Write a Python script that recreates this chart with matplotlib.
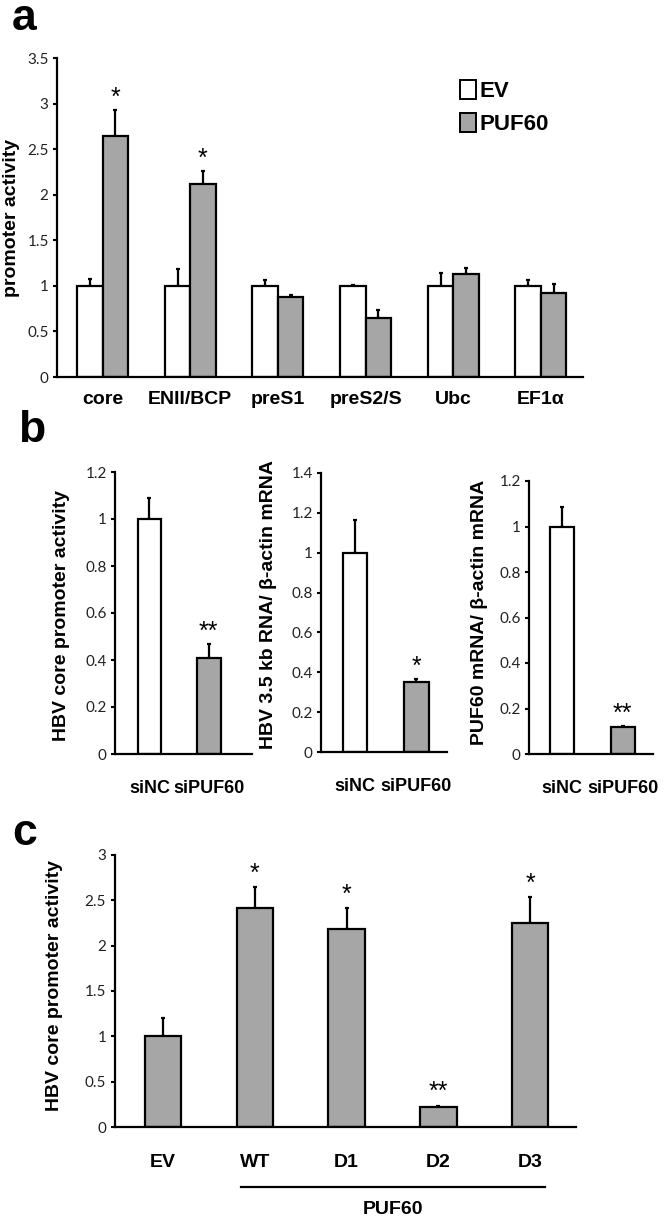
import numpy as np
import matplotlib
matplotlib.use("Agg")
import matplotlib.pyplot as plt
import matplotlib.transforms as mtransforms
from matplotlib.patches import Patch

# ---- data ----
a_categories = ["core", "ENII/BCP", "preS1", "preS2/S", "Ubc", "EF1\u03b1"]
a_ev = [1.0, 1.0, 1.0, 1.0, 1.0, 1.0]
a_ev_err = [0.08, 0.19, 0.06, 0.01, 0.14, 0.06]
a_puf = [2.64, 2.12, 0.88, 0.65, 1.13, 0.92]
a_puf_err = [0.29, 0.14, 0.02, 0.09, 0.07, 0.10]
a_stars = ["*", "*", "", "", "", ""]

b_categories = ["siNC", "siPUF60"]
b1_vals = [1.0, 0.41]
b1_err = [0.09, 0.06]
b1_stars = ["", "**"]
b2_vals = [1.0, 0.35]
b2_err = [0.165, 0.015]
b2_stars = ["", "*"]
b3_vals = [1.0, 0.12]
b3_err = [0.085, 0.005]
b3_stars = ["", "**"]

c_categories = ["EV", "WT", "D1", "D2", "D3"]
c_vals = [1.0, 2.41, 2.18, 0.22, 2.25]
c_err = [0.20, 0.23, 0.23, 0.015, 0.28]
c_stars = ["", "*", "*", "**", "*"]

GRAY = "#a6a6a6"
W, H = 666, 1221
BOLD = dict(family="Liberation Sans", fontweight="bold")
TICKFONT = "Lato"

fig = plt.figure(figsize=(W / 100, H / 100), dpi=100)


def add_axes_px(x0, x1, y_top, y_bot):
    return fig.add_axes([x0 / W, 1 - y_bot / H, (x1 - x0) / W, (y_bot - y_top) / H])


def style_axes(ax, ymax, step, xlim, label, label_xy, xpad):
    ax.set_ylim(0, ymax)
    ax.set_xlim(*xlim)
    ax.set_yticks(np.round(np.arange(0, ymax + step / 2, step), 2))
    ax.yaxis.set_major_formatter(plt.FuncFormatter(lambda v, p: f"{v:g}"))
    for s in ["top", "right"]:
        ax.spines[s].set_visible(False)
    for s in ["left", "bottom"]:
        ax.spines[s].set_linewidth(1.6)
    ax.tick_params(axis="y", direction="out", length=3, width=1.5, pad=3, labelsize=11)
    ax.tick_params(axis="x", length=0, pad=xpad)
    for t in ax.get_yticklabels():
        t.set_family(TICKFONT)
        t.set_color("#222222")
    ax.set_ylabel(label, fontsize=14, **BOLD)
    ax.yaxis.set_label_coords(*label_xy)


def bars(ax, x, vals, errs, color, width):
    ax.bar(x, vals, width, color=color, edgecolor="black", linewidth=1.6, zorder=2)
    ax.errorbar(x, vals, yerr=[np.zeros(len(vals)), errs], fmt="none", ecolor="black",
                elinewidth=1.6, capsize=1.2, capthick=1.6, zorder=1)


def stars(ax, x, vals, errs, marks, offset):
    for xi, v, e, m in zip(x, vals, errs, marks):
        if m:
            ax.text(xi, v + e + offset, m, ha="center", va="bottom", fontsize=18,
                    family="Liberation Sans")


# ---- panel a ----
ax = add_axes_px(57, 583, 58, 377)
x = np.arange(len(a_categories))
bw = 0.29
bars(ax, x - bw / 2, a_ev, a_ev_err, "white", bw)
bars(ax, x + bw / 2, a_puf, a_puf_err, GRAY, bw)
stars(ax, x + bw / 2, a_puf, a_puf_err, a_stars, 0.0)
style_axes(ax, 3.5, 0.5, (-0.52, 5.48), "promoter activity", (-0.07, 0.5), 10)
ax.set_xticks(x)
ax.set_xticklabels(a_categories, fontsize=14, **BOLD)
handles = [Patch(facecolor="white", edgecolor="black", linewidth=1.4),
           Patch(facecolor=GRAY, edgecolor="black", linewidth=1.4)]
ax.legend(handles, ["EV", "PUF60"], loc="upper left", bbox_to_anchor=(0.745, 0.965),
          frameon=False, handlelength=0.7, handleheight=0.9, handletextpad=0.2,
          labelspacing=0.5, borderpad=0, prop=dict(family="Liberation Sans", weight="bold", size=16))

# ---- panel b ----
b_specs = [
    ((115, 252, 472, 754), b1_vals, b1_err, b1_stars, 1.2, 0.2, (-0.58, 1.73),
     "HBV core promoter activity", (-0.33, 0.49)),
    ((321, 447, 473, 752), b2_vals, b2_err, b2_stars, 1.4, 0.2, (-0.56, 1.5),
     "HBV 3.5 kb RNA/ \u03b2-actin mRNA", (-0.35, 0.53)),
    ((529, 653, 481, 754), b3_vals, b3_err, b3_stars, 1.2, 0.2, (-0.55, 1.5),
     "PUF60 mRNA/ \u03b2-actin mRNA", (-0.33, 0.52)),
]
xb = np.arange(len(b_categories))
for box, vals, errs, marks, ymax, step, xlim, label, label_xy in b_specs:
    axb = add_axes_px(*box)
    for xi, v, e, col in zip(xb, vals, errs, ["white", GRAY]):
        bars(axb, [xi], [v], [e], col, 0.4)
    stars(axb, xb, vals, errs, marks, 0.0)
    style_axes(axb, ymax, step, xlim, label, label_xy, 19)
    axb.set_xticks(xb)
    axb.set_xticklabels(b_categories, fontsize=13, **BOLD)

# ---- panel c ----
axc = add_axes_px(114.5, 576, 854.7, 1127.3)
xc = np.arange(len(c_categories))
bars(axc, xc, c_vals, c_err, GRAY, 0.4)
stars(axc, xc, c_vals, c_err, c_stars, 0.02)
style_axes(axc, 3, 0.5, (-0.53, 4.5), "HBV core promoter activity", (-0.112, 0.52), 19)
axc.set_xticks(xc)
axc.set_xticklabels(c_categories, fontsize=14, **BOLD)
trans = mtransforms.blended_transform_factory(axc.transData, axc.transAxes)
axc.plot([xc[1] - 0.15, xc[-1] + 0.16], [-0.218, -0.218], color="black", lw=1.6,
         transform=trans, clip_on=False)
axc.text((xc[1] + xc[-1]) / 2, -0.30, "PUF60", transform=trans, ha="center", va="center",
         fontsize=14, **BOLD)

# ---- panel letters ----
for letter, (px, py) in zip("abc", [(12, 30), (18, 442), (12, 845)]):
    fig.text(px / W, 1 - py / H, letter, fontsize=32, ha="left", va="baseline", **BOLD)

fig.savefig("out.png", dpi=100)
